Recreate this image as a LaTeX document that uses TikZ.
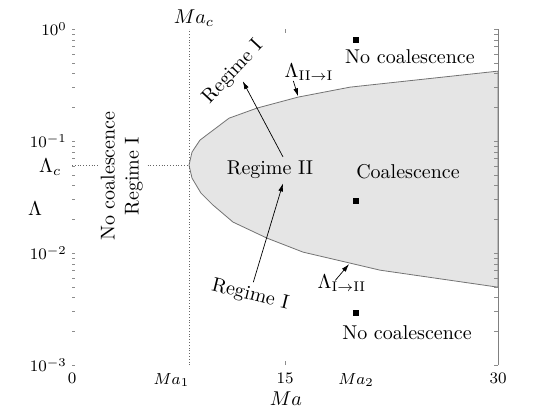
\documentclass[tikz,border=0pt]{standalone}
\usepackage{amsmath}
\usepackage{tikz}
\usetikzlibrary{arrows.meta, positioning, calc}
\tikzset{
  lbl/.style   = {font=\normalsize, inner sep=2pt},
  tlbl/.style  = {font=\footnotesize, inner sep=1pt},
  bnd/.style   = {draw=black!55, line width=0.4pt, fill=black!10},
  guide/.style = {black!60, densely dotted, line width=0.4pt},
  axis/.style  = {black!50, line width=0.4pt},
  tick/.style  = {black!45, line width=0.3pt},
  flow/.style  = {-{Latex[length=4pt, width=2.4pt]}, line width=0.35pt},
  pt/.style    = {fill=black, minimum size=3pt, inner sep=0pt},
}

\begin{document}
\begin{tikzpicture}[x=7.1pt, y=56pt]
    \useasboundingbox (-5.07,-0.42) rectangle (33.73,3.26);

    % coalescence region
    \draw[bnd] (30,2.625) -- (19.58,2.482) -- (15.92,2.393) -- (13.03,2.295)
      -- (11.06,2.205) -- (9.01,2.009) -- (8.45,1.902) -- (8.24,1.786)
      -- (8.45,1.670) -- (9.08,1.536) -- (9.93,1.429) -- (11.34,1.277)
      -- (13.73,1.134) -- (16.27,1.009) -- (19.58,0.911) -- (21.69,0.848)
      -- (30,0.696) -- cycle;
    \coordinate (nose) at (8.24,1.786);
    \coordinate (tipU) at (15.92,2.400);
    \coordinate (tipL) at (19.51,0.902);

    % guides at Ma_c and Lambda_c
    \draw[guide] (8.24,0) -- (8.24,3);
    \draw[guide] (0,1.786) -- (nose);

    % axes
    \draw[axis] (30,0) -- (30,3);
    \foreach \d in {0,1,2,3} {
      \draw[tick] (30,\d) -- ++(-2pt,0);
      \draw[tick] (0,\d) -- ++(1.5pt,0);
    }
    \foreach \d in {0,1,2} {
      \foreach \k in {2,...,9} {
        \draw[tick] (30,{\d+ln(\k)/ln(10)}) -- ++(-2pt,0);
        \draw[tick] (0,{\d+ln(\k)/ln(10)}) -- ++(1.5pt,0);
      }
    }
    \draw[tick] (15,0) -- ++(0,2pt);
    \draw[tick] (15,3) -- ++(0,-2pt);

    % tick labels
    \node[tlbl, anchor=east] at (-0.2,3) {$10^{0}$};
    \node[tlbl, anchor=east] at (-0.2,2) {$10^{-1}$};
    \node[tlbl, anchor=east] at (-0.2,1) {$10^{-2}$};
    \node[tlbl, anchor=east] at (-0.2,0) {$10^{-3}$};
    \node[lbl, anchor=east] (lamc) at (-0.45,1.77) {$\Lambda_c$};
    \node[tlbl, anchor=north, yshift=-3pt] at (0,0) {$0$};
    \node[tlbl, anchor=north, yshift=-3pt] at (7,0) {$Ma_1$};
    \node[tlbl, anchor=north, yshift=-3pt] at (15,0) {$15$};
    \node[tlbl, anchor=north, yshift=-3pt] at (20,0) {$Ma_2$};
    \node[tlbl, anchor=north, yshift=-3pt] at (30,0) {$30$};
    \node[lbl] (xlab) at (15.07,-0.295) {$Ma$};
    \node[lbl] (ylab) at (-2.6,1.40) {$\Lambda$};
    \node[lbl] (mac) at (8.59,3.10) {$Ma_c$};

    % regions
    \node[lbl, rotate=90, align=center, fill=white, inner sep=1.5pt] (left)
      at (3.5,1.6875) {No coalescence\\Regime I};
    \node[lbl] (regII) at (13.94,1.741) {Regime II};
    \node[lbl] (coal) at (23.66,1.723) {Coalescence};
    \node[lbl] (ncup) at (23.80,2.750) {No coalescence};
    \node[lbl] (nclo) at (23.59,0.286) {No coalescence};
    \node[lbl, rotate=47] (regIup) at (11.34,2.616) {Regime I};
    \node[lbl, rotate=-14] (regIlo) at (12.54,0.625) {Regime I};
    \node[lbl, inner sep=0pt] (lamU) at (16.69,2.616)
      {$\Lambda_{\mathrm{II}\rightarrow\mathrm{I}}$};
    \node[lbl, inner sep=0pt] (lamL) at (19.01,0.732)
      {$\Lambda_{\mathrm{I}\rightarrow\mathrm{II}}$};

    % sample points
    \node[pt] (sqA) at (20,2.902) {};
    \node[pt] (sqB) at (20,1.464) {};
    \node[pt] (sqC) at (20,0.464) {};

    \draw[flow] ([xshift=6.5pt]regII.north) -- (regIup.south);
    \draw[flow] (regIlo.north) -- ([xshift=6.5pt]regII.south);
    \draw[flow] ([xshift=4.5pt]lamU.south west) -- (tipU);
    \draw[flow] ([shift={(9pt,-3pt)}]lamL.north west) -- (tipL);
  \end{tikzpicture}
\end{document}
